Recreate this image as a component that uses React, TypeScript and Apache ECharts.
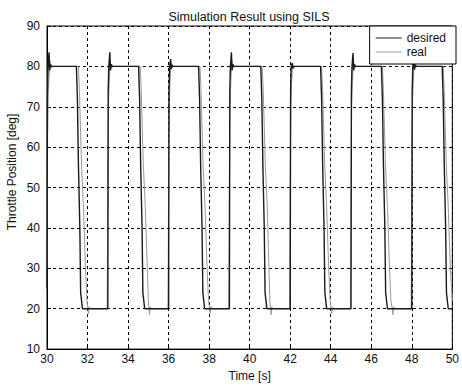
import React, { useEffect, useRef } from "react";
import * as echarts from "echarts";

const xTicks = { min: 30, max: 50, interval: 2 };
const yTicks = { min: 10, max: 90, interval: 10 };
const titleText = "Simulation Result using SILS";
const xName = "Time [s]";
const yName = "Throttle Position [deg]";
const seriesNames = ["desired", "real"];

// dark trace
const desired: [number, number][] = [
  [30.0, 25], [30.02, 72], [30.05, 80], [30.1, 83.5], [30.13, 79], [30.17, 80.5], [30.22, 80],
  [31.45, 80], [31.5, 72], [31.55, 56], [31.62, 40], [31.66, 24], [31.75, 20], [33.0, 20],
  [33.02, 74], [33.05, 80], [33.1, 83.5], [33.13, 79], [33.17, 80.5], [33.22, 80],
  [34.52, 80], [34.57, 72], [34.62, 56], [34.69, 40], [34.73, 24], [34.82, 20], [36.0, 20],
  [36.02, 74], [36.05, 80], [36.1, 81.8], [36.13, 79.3], [36.17, 80.4], [36.22, 80],
  [37.48, 80], [37.53, 72], [37.58, 56], [37.65, 40], [37.69, 24], [37.78, 20], [39.0, 20],
  [39.02, 74], [39.05, 80], [39.1, 83.5], [39.13, 79], [39.17, 80.5], [39.22, 80],
  [40.55, 80], [40.6, 72], [40.65, 56], [40.72, 40], [40.76, 24], [40.85, 20], [42.0, 20],
  [42.02, 74], [42.05, 80], [42.1, 80.8], [42.13, 79.5], [42.2, 80],
  [43.5, 80], [43.55, 72], [43.6, 56], [43.67, 40], [43.71, 24], [43.8, 20], [45.0, 20],
  [45.02, 74], [45.05, 80], [45.1, 83.3], [45.13, 79], [45.17, 80.5], [45.22, 80],
  [46.5, 80], [46.55, 72], [46.6, 56], [46.67, 40], [46.71, 24], [46.8, 20], [48.0, 20],
  [48.02, 74], [48.05, 80], [48.1, 82.2], [48.13, 79.2], [48.17, 80.4], [48.22, 80],
  [49.5, 80], [49.55, 72], [49.6, 56], [49.67, 40], [49.71, 24], [49.8, 20], [50.0, 20],
];

// grey trace
const real: [number, number][] = [
  [30.0, 30], [30.03, 62], [30.06, 74], [30.1, 77], [30.15, 81.5], [30.2, 79.5], [30.28, 80],
  [31.55, 80], [31.6, 74], [31.7, 56], [31.8, 45], [31.9, 30], [31.97, 22], [32.02, 20],
  [32.05, 18.8], [32.08, 20.5], [32.15, 20], [32.97, 20],
  [33.0, 50], [33.03, 70], [33.07, 76], [33.12, 81.5], [33.17, 79.5], [33.25, 80],
  [34.6, 80], [34.65, 74], [34.75, 56], [34.85, 45], [34.95, 30], [35.0, 22], [35.03, 20],
  [35.06, 18.5], [35.09, 20.5], [35.15, 20], [35.97, 20],
  [36.0, 50], [36.03, 70], [36.07, 76], [36.12, 81], [36.17, 79.6], [36.25, 80],
  [37.55, 80], [37.6, 74], [37.7, 56], [37.8, 45], [37.9, 30], [37.97, 22], [38.02, 20],
  [38.05, 18.8], [38.08, 20.5], [38.15, 20], [38.97, 20],
  [39.0, 50], [39.03, 70], [39.07, 76], [39.12, 81.5], [39.17, 79.5], [39.25, 80],
  [40.62, 80], [40.67, 74], [40.77, 56], [40.87, 45], [40.95, 30], [41.0, 22], [41.03, 20],
  [41.06, 18.5], [41.09, 20.5], [41.15, 20], [41.97, 20],
  [42.0, 50], [42.03, 70], [42.07, 76], [42.12, 80.8], [42.17, 79.7], [42.25, 80],
  [43.55, 80], [43.6, 74], [43.7, 56], [43.8, 45], [43.9, 30], [43.97, 22], [44.02, 20],
  [44.05, 18.8], [44.08, 20.5], [44.15, 20], [44.97, 20],
  [45.0, 50], [45.03, 70], [45.07, 76], [45.12, 81.5], [45.17, 79.5], [45.25, 80],
  [46.55, 80], [46.6, 74], [46.7, 56], [46.8, 45], [46.9, 30], [46.97, 22], [47.04, 20],
  [47.07, 18.5], [47.1, 20.5], [47.15, 20], [47.97, 20],
  [48.0, 50], [48.03, 70], [48.07, 76], [48.12, 81], [48.17, 79.6], [48.25, 80],
  [49.55, 80], [49.6, 74], [49.7, 56], [49.8, 45], [49.9, 30], [50.0, 22],
];

const FONT = "Liberation Sans, Arial, Helvetica, sans-serif";
const LINE_ICON = "path://M0,0h26v1h-26z";

export default function App() {
  const ref = useRef<HTMLDivElement>(null);
  useEffect(() => {
    if (!ref.current) return;
    const chart = echarts.init(ref.current, undefined, { renderer: "svg" });
    const gridLine = { show: true, lineStyle: { color: "#000", width: 1, type: [3, 3] as any } };
    chart.setOption({
      animation: false,
      backgroundColor: "#fff",
      textStyle: { fontFamily: FONT },
      grid: {
        left: 47, right: 6, top: 26, bottom: 34,
        show: true, borderColor: "#000", borderWidth: 1, backgroundColor: "transparent",
      },
      legend: {
        data: seriesNames.map((n) => ({ name: n, icon: LINE_ICON })),
        orient: "vertical",
        right: 6,
        top: 26,
        padding: [6, 10, 6, 6],
        itemGap: 2,
        itemWidth: 26,
        itemHeight: 10,
        backgroundColor: "#fff",
        borderColor: "#000",
        borderWidth: 1,
        borderRadius: 0,
        textStyle: { fontSize: 12, color: "#111", fontFamily: FONT },
      },
      xAxis: {
        type: "value",
        min: xTicks.min, max: xTicks.max, interval: xTicks.interval,
        name: xName, nameLocation: "middle", nameGap: 16,
        nameTextStyle: { fontSize: 12, color: "#111", fontFamily: FONT },
        axisLine: { show: true, lineStyle: { color: "#000", width: 1 } },
        axisTick: { show: true, inside: true, length: 4, lineStyle: { color: "#000" } },
        axisLabel: { fontSize: 12, color: "#111", margin: 4, fontFamily: FONT },
        splitLine: gridLine,
      },
      yAxis: {
        type: "value",
        min: yTicks.min, max: yTicks.max, interval: yTicks.interval,
        axisLine: { show: true, lineStyle: { color: "#000", width: 1 } },
        axisTick: { show: true, inside: true, length: 4, lineStyle: { color: "#000" } },
        axisLabel: { fontSize: 12, color: "#111", margin: 7, fontFamily: FONT },
        splitLine: gridLine,
      },
      graphic: [
        {
          type: "text", x: 249, y: 17,
          style: { text: titleText, fontSize: 12.5, fill: "#111", fontFamily: FONT, textAlign: "center", textVerticalAlign: "middle" },
        },
        {
          type: "text", x: 12, y: 172, rotation: Math.PI / 2,
          style: { text: yName, fontSize: 12, fill: "#111", fontFamily: FONT, textAlign: "center", textVerticalAlign: "middle" },
        },
      ],
      series: [
        {
          name: seriesNames[0], type: "line", data: desired, symbol: "none",
          lineStyle: { color: "#1a1a1a", width: 1.4 }, itemStyle: { color: "#1a1a1a" }, z: 3,
        },
        {
          name: seriesNames[1], type: "line", data: real, symbol: "none",
          lineStyle: { color: "#9a9a9a", width: 1 }, itemStyle: { color: "#9a9a9a" }, z: 2,
        },
      ],
    });
    return () => chart.dispose();
  }, []);
  return <div ref={ref} style={{ width: 462, height: 387, position: "absolute", left: 0, top: 0 }} />;
}
